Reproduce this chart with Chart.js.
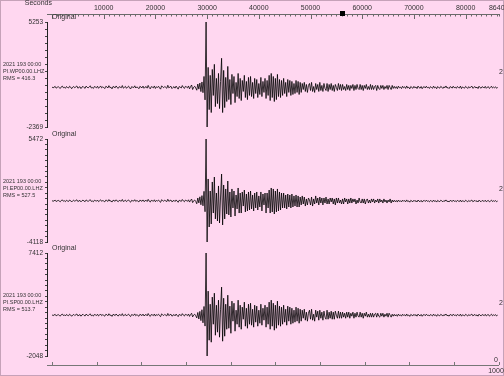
<!DOCTYPE html>
<html lang="en">
<head>
  <meta charset="UTF-8" />
  <title>PI 2021 193 LHZ</title>
  <script src="https://cdn.jsdelivr.net/npm/chart.js"></script>
  <style>
    * {
      margin: 0;
      padding: 0;
      box-sizing: border-box;
    }

    body {
      background-color: #ffd7f0;
      overflow: hidden;
    }

    canvas {
      display: block;
    }
  </style>
</head>

<body>
  <canvas id="seisChart" width="504" height="376"></canvas>

  <script>
    // one sample every 200 s over the day
    const SAMPLE_STEP = 200;
    const startLabel = '2021 193 00:00';
    const stations = ['PI.WP00.00.LHZ', 'PI.EP00.00.LHZ', 'PI.SP00.00.LHZ'];
    const rmsValues = [416.3, 527.5, 513.7];
    const yMax = [5253, 5472, 7412];
    const yMin = [-2369, -4118, -2048];
    const topTickLabels = [10000, 20000, 30000, 40000, 50000, 60000, 70000, 80000, 86400];
    const bottomTicks = [0, 100, 200, 300, 400, 500, 600, 700, 800, 900, 1000];
    const cursorTime = 56100;

    const wpCounts = [
      540, 470, 520, 580, 450, 510, 560, 490, 430, 550,
      600, 480, 520, 440, 570, 500, 460, 590, 530, 410,
      520, 570, 480, 540, 610, 450, 500, 560, 420, 530,
      580, 490, 440, 600, 510, 470, 550, 620, 460, 500,
      430, 570, 530, 480, 590, 440, 520, 610, 470, 540,
      500, 420, 580, 550, 460, 630, 490, 520, 400, 570,
      540, 470, 610, 500, 430, 560, 520, 480, 640, 450,
      510, 580, 440, 530, 600, 470, 390, 560, 520, 490,
      620, 460, 540, 500, 410, 580, 530, 470, 600, 440,
      520, 570, 450, 650, 490, 400, 560, 530, 470, 610,
      430, 550, 500, 590, 460, 380, 620, 540, 480, 570,
      510, 440, 660, 470, 530, 590, 420, 500, 560, 450,
      600, 490, 380, 570, 520, 460, 640, 510, 430, 580,
      540, 470, 610, 400, 560, 680, 350, 520, 590, 460,
      300, 750, 380, 820, 200, 900, 120, 1300, -400, 5253, -2369,
      1960, -1110, 1380, -1320, 1810, -80, 2180, -890, 1160, -670,
      1520, -1030, 940, 2620, -1320, 1740, -960, 1230, -520, 2030,
      -380, 1080, -740, 1450, 60, 1300, -600, 870, -160, 1520,
      -300, 1160, -450, 1010, 210, 1380, -230, 940, -380, 1230,
      -80, 1300, -160, 870, -300, 1160, 60, 1080, -230, 790,
      -10, 1230, -160, 940, 140, 1160, -300, 1010, -80, 1380,
      -450, 1520, -230, 1300, -520, 1160, -380, 1450, -160, 1080,
      -230, 1010, -80, 1160, 60, 870, -160, 1080, 140, 1010,
      -80, 940, -10, 790, 60, 1010, 140, 940, -10, 870,
      140, 790, 350, 870, 210, 720, 140, 650, 790, 280,
      870, 210, 570, 140, 790, 350, 720, 210, 870, 280,
      650, 210, 790, 430, 280, 790, 210, 720, 350, 790,
      280, 650, 210, 720, 500, 280, 790, 350, 720, 280,
      720, 350, 570, 280, 720, 350, 650, 280, 650, 430,
      720, 280, 650, 350, 720, 430, 350, 720, 350, 650,
      280, 650, 430, 720, 350, 570, 350, 720, 350, 650,
      350, 570, 650, 280, 650, 430, 350, 650, 430, 650,
      350, 570, 430, 650, 350, 650, 500, 350, 650, 430,
      580, 440, 560, 410, 600, 470, 530, 420, 590, 480,
      550, 430, 610, 460, 520, 400, 570, 500, 440, 580,
      470, 540, 420, 600, 490, 450, 570, 410, 530, 560,
      460, 590, 480, 520, 430, 560, 500, 440, 600, 470,
      530, 410, 570, 490, 450, 580, 520, 430, 550, 480,
      610, 460, 500, 420, 560, 530, 450, 590, 480, 520,
      440, 570, 500, 460, 600, 420, 540, 490, 450, 580,
      510, 430, 560, 480, 520, 600, 440, 500, 570, 460,
      530, 420, 590, 490, 450, 560, 510, 470, 580, 440,
      520, 560, 430, 500, 590, 460, 530, 480, 550, 440, 510
    ];

    const epCounts = [
      -260, -330, -280, -220, -350, -290, -240, -310, -370, -250,
      -200, -320, -280, -360, -230, -300, -340, -210, -270, -390,
      -280, -230, -320, -260, -190, -350, -300, -240, -380, -270,
      -220, -310, -360, -200, -290, -330, -250, -180, -340, -300,
      -370, -230, -270, -320, -210, -360, -280, -190, -330, -260,
      -300, -380, -220, -250, -340, -170, -310, -280, -400, -230,
      -260, -330, -190, -300, -370, -240, -280, -320, -160, -350,
      -290, -220, -360, -270, -200, -330, -410, -240, -280, -310,
      -180, -340, -260, -300, -390, -220, -270, -330, -200, -360,
      -280, -230, -350, -150, -310, -400, -240, -270, -330, -190,
      -370, -250, -300, -210, -340, -420, -180, -260, -320, -230,
      -290, -360, -140, -330, -270, -210, -380, -300, -240, -350,
      -200, -310, -420, -230, -280, -340, -160, -290, -370, -220,
      -260, -330, -190, -400, -240, -120, -450, -280, -210, -340,
      -560, -20, -480, 90, -650, 200, -750, 600, -1300, 5472, -4118,
      1750, -2720, 630, -2440, 1470, -1420, 1930, -1970, 440, -2160,
      1100, -2350, 70, 2210, -2530, 1190, -1970, 820, -1510, 1560,
      -1600, 540, -1790, 820, -950, 630, -1700, 260, -1040, 910,
      -1420, 440, -1420, 540, -770, 720, -1320, 350, -1230, 540,
      -1140, 630, -1040, 260, -1230, 440, -950, 540, -1140, 170,
      -860, 540, -1230, 350, -670, 440, -1420, 440, -950, 720,
      -1420, 910, -1320, 820, -1510, 630, -1320, 820, -1230, 540,
      -1140, 440, -950, 440, -950, 260, -1040, 350, -860, 260,
      -950, 350, -860, 170, -770, 260, -860, 170, -860, 70,
      -670, 170, -580, 70, -770, -110, -670, -20, -210, -670,
      70, -770, -110, -580, 170, -490, -20, -670, 70, -490,
      -20, -670, -20, -490, 70, -580, -110, -580, -20, -390,
      -20, -580, -110, -670, -20, -490, -20, -490, -210, -580,
      -110, -580, -20, -390, -110, -580, -110, -490, -20, -490,
      -110, -390, -110, -580, -210, -490, -20, -390, -490, -110,
      -490, -110, -580, -210, -110, -490, -210, -490, -110, -390,
      -110, -490, -210, -390, -110, -490, -110, -390, -210, -490,
      -110, -390, -210, -490, -210, -390, -110, -490, -210, -390,
      -230, -370, -250, -400, -210, -340, -280, -390, -220, -320,
      -260, -380, -200, -350, -290, -410, -240, -310, -370, -230,
      -340, -270, -390, -210, -320, -360, -240, -400, -280, -250,
      -350, -220, -330, -290, -380, -250, -310, -370, -210, -340,
      -280, -400, -240, -320, -360, -230, -290, -380, -260, -330,
      -200, -350, -310, -390, -250, -280, -360, -220, -330, -290,
      -370, -240, -310, -350, -210, -390, -270, -320, -360, -230,
      -300, -380, -250, -330, -290, -210, -370, -310, -240, -350,
      -280, -390, -220, -320, -360, -250, -300, -340, -230, -370,
      -290, -250, -380, -310, -220, -350, -280, -330, -260, -370, -300
    ];

    const spCounts = [
      1740, 1660, 1720, 1780, 1640, 1700, 1760, 1680, 1620, 1750,
      1800, 1670, 1730, 1630, 1770, 1690, 1650, 1790, 1720, 1600,
      1710, 1770, 1670, 1740, 1810, 1640, 1690, 1760, 1610, 1730,
      1780, 1680, 1630, 1800, 1700, 1660, 1750, 1820, 1650, 1700,
      1620, 1770, 1730, 1670, 1790, 1630, 1710, 1810, 1660, 1740,
      1690, 1610, 1780, 1750, 1650, 1830, 1680, 1720, 1590, 1770,
      1740, 1660, 1810, 1690, 1620, 1760, 1720, 1670, 1840, 1640,
      1700, 1780, 1630, 1730, 1800, 1660, 1580, 1760, 1720, 1680,
      1820, 1650, 1740, 1690, 1600, 1780, 1730, 1660, 1800, 1630,
      1720, 1770, 1640, 1850, 1680, 1590, 1760, 1730, 1660, 1810,
      1620, 1750, 1700, 1790, 1650, 1570, 1820, 1740, 1670, 1770,
      1700, 1630, 1860, 1660, 1730, 1790, 1610, 1690, 1760, 1640,
      1800, 1680, 1570, 1770, 1720, 1650, 1840, 1710, 1620, 1780,
      1740, 1660, 1810, 1590, 1760, 1880, 1540, 1720, 1790, 1650,
      1450, 1950, 1350, 2050, 1200, 2200, 1000, 2500, 700, 7412, -2048,
      3910, -600, 2710, -780, 3360, 870, 3720, -140, 2620, 140,
      3080, -320, 2250, 4280, -690, 3260, -230, 2710, 410, 3540,
      500, 2530, 40, 2990, 1150, 2800, 230, 2160, 870, 3080,
      600, 2620, 410, 2440, 1330, 2900, 690, 2340, 500, 2710,
      870, 2800, 780, 2250, 600, 2620, 1060, 2530, 690, 2160,
      960, 2710, 780, 2340, 1240, 2620, 600, 2440, 870, 2900,
      410, 3080, 690, 2800, 320, 2620, 500, 2990, 780, 2530,
      690, 2440, 870, 2620, 1060, 2250, 780, 2530, 1150, 2440,
      870, 2340, 960, 2160, 1060, 2440, 1150, 2340, 960, 2250,
      1150, 2160, 1420, 2250, 1240, 1980, 1150, 1880, 2160, 1330,
      2250, 1240, 1790, 1150, 2160, 1520, 2070, 1240, 2160, 1420,
      1980, 1240, 2070, 1520, 1330, 2160, 1330, 1980, 1420, 2070,
      1330, 1980, 1330, 2070, 1700, 1420, 2070, 1420, 1980, 1420,
      1980, 1520, 1880, 1420, 1980, 1520, 1980, 1420, 1880, 1610,
      1980, 1420, 1880, 1520, 1980, 1610, 1520, 1980, 1520, 1880,
      1420, 1880, 1610, 1980, 1520, 1790, 1520, 1880, 1520, 1880,
      1520, 1790, 1880, 1520, 1880, 1610, 1520, 1880, 1610, 1880,
      1520, 1790, 1610, 1880, 1520, 1880, 1700, 1520, 1790, 1610,
      1780, 1630, 1750, 1600, 1800, 1660, 1730, 1610, 1790, 1680,
      1740, 1620, 1810, 1650, 1720, 1590, 1770, 1700, 1640, 1780,
      1660, 1750, 1610, 1800, 1690, 1640, 1770, 1600, 1730, 1760,
      1650, 1790, 1680, 1720, 1620, 1760, 1700, 1630, 1800, 1670,
      1730, 1600, 1770, 1690, 1640, 1780, 1720, 1620, 1750, 1680,
      1810, 1650, 1700, 1610, 1760, 1730, 1640, 1790, 1680, 1720,
      1630, 1770, 1700, 1660, 1800, 1610, 1740, 1690, 1640, 1780,
      1710, 1620, 1760, 1680, 1720, 1800, 1640, 1700, 1770, 1650,
      1730, 1610, 1790, 1690, 1640, 1760, 1710, 1660, 1780, 1630,
      1720, 1760, 1620, 1700, 1790, 1650, 1730, 1680, 1750, 1630, 1710
    ];

    const FONT = '"Liberation Sans", Arial, sans-serif';
    const TEXT = '#333';
    Chart.defaults.font.family = FONT;

    function traceData(counts) {
      return counts.map((y, i) => ({ x: i * SAMPLE_STEP, y: y }));
    }

    // force box sizes and drop the label overhang padding
    function fixedBox(w, h) {
      return function (scale) {
        if (w != null) scale.width = w;
        if (h != null) scale.height = h;
        scale.paddingLeft = scale.paddingRight = scale.paddingTop = scale.paddingBottom = 0;
      };
    }

    function traceAxis(i, weight) {
      return {
        type: 'linear',
        position: 'left',
        stack: 'traces',
        stackWeight: weight,
        min: yMin[i],
        max: yMax[i],
        afterFit: fixedBox(47, null),
        border: { display: true, color: '#222', width: 1 },
        grid: { drawOnChartArea: false, tickLength: 2, color: '#444' },
        ticks: {
          stepSize: 500,
          autoSkip: false,
          padding: 2,
          color: TEXT,
          font: { size: 6.5 },
          callback: (v, idx, ticks) => (idx === 0 || idx === ticks.length - 1) ? String(v) : ''
        }
      };
    }

    function spacerAxis(weight) {
      return {
        type: 'linear',
        position: 'left',
        stack: 'traces',
        stackWeight: weight,
        afterFit: fixedBox(47, null),
        border: { display: false },
        grid: { display: false },
        ticks: { display: false }
      };
    }

    const seisDecor = {
      id: 'seisDecor',
      beforeDraw(chart) {
        const c = chart.ctx;
        c.save();
        c.fillStyle = '#ffd7f0';
        c.fillRect(0, 0, chart.width, chart.height);
        c.strokeStyle = '#c6a2b9';
        c.strokeRect(0.5, 0.5, chart.width - 1, chart.height - 1);
        c.restore();
      },
      afterDraw(chart) {
        const c = chart.ctx;
        const x = chart.scales.x;
        const x2 = chart.scales.x2;
        c.save();
        c.lineWidth = 1;

        // top time axis, ticks hang below the line
        c.strokeStyle = '#6a6a6a';
        x.ticks.forEach(t => {
          const px = Math.round(x.getPixelForValue(t.value)) + 0.5;
          const major = t.value % 10000 === 0;
          c.beginPath();
          c.moveTo(px, x.bottom);
          c.lineTo(px, x.bottom + (major ? 5 : 2.5));
          c.stroke();
        });

        // bottom axis, ticks point up
        c.strokeStyle = '#777';
        x2.ticks.forEach(t => {
          const px = Math.round(x2.getPixelForValue(t.value)) + 0.5;
          c.beginPath();
          c.moveTo(px, x2.top);
          c.lineTo(px, x2.top - 3);
          c.stroke();
        });

        // time cursor on the top axis
        const cx = x.getPixelForValue(cursorTime);
        c.fillStyle = '#000';
        c.fillRect(Math.round(cx) - 2, x.bottom - 3, 5, 5);

        c.fillStyle = TEXT;
        c.font = '7px ' + FONT;
        c.textBaseline = 'middle';
        c.textAlign = 'right';
        c.fillText('Seconds', 52, 3);

        c.textAlign = 'center';
        c.fillText('0', 496, x2.top - 5);
        c.fillText('1000', 496, x2.top + 6);

        ['y1', 'y2', 'y3'].forEach((id, i) => {
          const s = chart.scales[id];
          c.font = '7px ' + FONT;
          c.textAlign = 'left';
          c.fillText('Original', 52, s.top - 5);
          c.fillText('2', 499, s.top + 50);
          c.font = '5.5px ' + FONT;
          c.fillText(startLabel, 3, s.top + 42);
          c.fillText(stations[i], 3, s.top + 49);
          c.fillText('RMS = ' + rmsValues[i], 3, s.top + 56);
        });
        c.restore();
      }
    };

    const lineStyle = {
      borderColor: '#000',
      borderWidth: 0.8,
      pointRadius: 0,
      tension: 0,
      xAxisID: 'x'
    };

    const ctx = document.getElementById('seisChart').getContext('2d');

    const seisChart = new Chart(ctx, {
      type: 'line',
      data: {
        datasets: [
          Object.assign({ label: stations[0], data: traceData(wpCounts), yAxisID: 'y1' }, lineStyle),
          Object.assign({ label: stations[1], data: traceData(epCounts), yAxisID: 'y2' }, lineStyle),
          Object.assign({ label: stations[2], data: traceData(spCounts), yAxisID: 'y3' }, lineStyle)
        ]
      },
      plugins: [seisDecor],
      options: {
        responsive: false,
        animation: false,
        events: [],
        devicePixelRatio: 1,
        layout: { padding: { left: 0, right: 5.3, top: 0, bottom: 0 } },
        plugins: {
          legend: { display: false },
          tooltip: { enabled: false }
        },
        scales: {
          x: {
            type: 'linear',
            position: 'top',
            min: -970,
            max: 86400,
            afterFit: fixedBox(null, 14),
            afterBuildTicks: s => {
              const t = [];
              for (let v = 0; v <= 86000; v += 1000) t.push({ value: v });
              t.push({ value: 86400 });
              s.ticks = t;
            },
            border: { display: true, color: '#6a6a6a' },
            grid: { display: false, drawTicks: false },
            ticks: {
              autoSkip: false,
              maxRotation: 0,
              minRotation: 0,
              padding: 2,
              color: TEXT,
              font: { size: 7 },
              callback: v => topTickLabels.includes(v) ? String(v) : ''
            }
          },
          x2: {
            type: 'linear',
            position: 'bottom',
            min: -11.23,
            max: 1000,
            afterFit: fixedBox(null, 11),
            afterBuildTicks: s => { s.ticks = bottomTicks.map(v => ({ value: v })); },
            border: { display: true, color: '#777' },
            grid: { display: false, drawTicks: false },
            ticks: { display: false }
          },
          // left stack is laid out last-defined on top
          sB: spacerAxis(9),
          y3: traceAxis(2, 103),
          g2: spacerAxis(11),
          y2: traceAxis(1, 103),
          g1: spacerAxis(12),
          y1: traceAxis(0, 105),
          sT: spacerAxis(8)
        }
      }
    });
  </script>
</body>
</html>
